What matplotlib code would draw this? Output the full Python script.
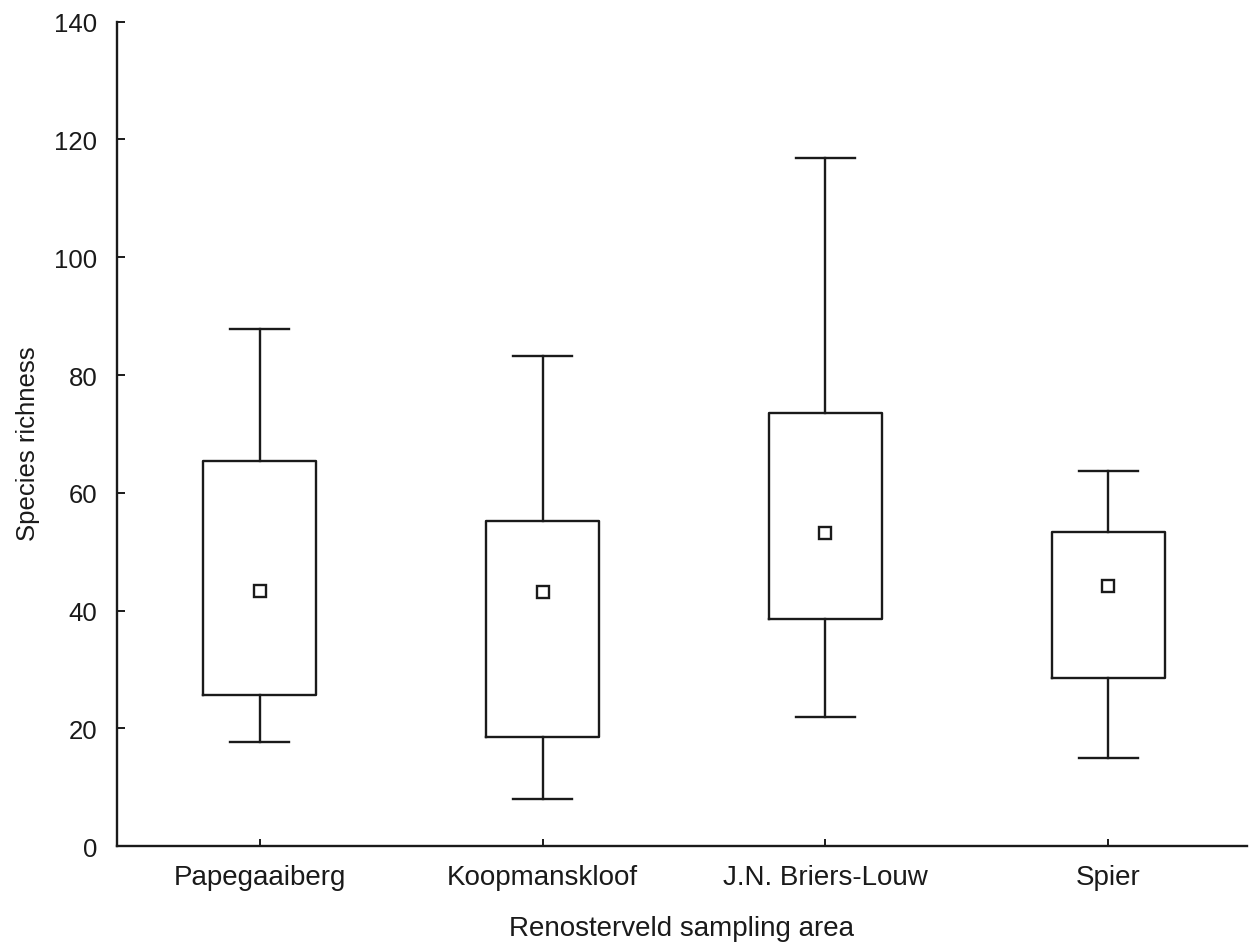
import matplotlib
matplotlib.use("Agg")
import matplotlib.pyplot as plt

plt.rcParams["font.family"] = ["Liberation Sans", "DejaVu Sans"]

# Values
areas = ["Papegaaiberg", "Koopmanskloof", "J.N. Briers-Louw", "Spier"]
centre = [43.4, 43.1, 53.2, 44.2]
box_low = [25.7, 18.6, 38.6, 28.6]
box_high = [65.4, 55.3, 73.5, 53.3]
whisker_low = [17.7, 8.0, 22.0, 15.0]
whisker_high = [87.8, 83.2, 116.9, 63.8]

stats = []
for name, c, lo, hi, wlo, whi in zip(areas, centre, box_low, box_high,
                                     whisker_low, whisker_high):
    stats.append({"label": name, "med": c, "mean": c, "q1": lo, "q3": hi,
                  "whislo": wlo, "whishi": whi, "fliers": []})

fig = plt.figure(figsize=(12.5, 9.45), dpi=100)
ax = fig.add_axes([0.0934, 0.1034, 0.9042, 0.8726])

line = dict(color="#1a1a1a", linewidth=1.7)
ax.bxp(stats, positions=range(len(areas)), widths=0.40,
       showmeans=True, showfliers=False,
       boxprops=line, whiskerprops=line, capprops=line,
       medianprops=dict(linewidth=0),
       meanprops=dict(marker="s", markersize=8.5, markerfacecolor="white",
                      markeredgecolor="#1a1a1a", markeredgewidth=1.7),
       capwidths=0.206)

ax.set_xlim(-0.505, 3.49)
ax.set_ylim(0, 140)
ax.set_yticks(range(0, 141, 20))
ax.set_xticks(range(len(areas)))
ax.set_xticklabels(areas)

for s in ["top", "right"]:
    ax.spines[s].set_visible(False)
for s in ["left", "bottom"]:
    ax.spines[s].set_linewidth(1.7)
    ax.spines[s].set_color("#1a1a1a")

ax.tick_params(axis="y", direction="in", length=6, width=1.4,
               labelsize=18.5, pad=14, colors="#1a1a1a")
ax.tick_params(axis="x", direction="in", length=5, width=1.4,
               labelsize=20, pad=13, colors="#1a1a1a")

ax.set_xlabel("Renosterveld sampling area", fontsize=20, labelpad=18,
              color="#1a1a1a")
ax.set_ylabel("Species richness", fontsize=18.5, color="#1a1a1a")
ax.yaxis.set_label_coords(-0.068, 0.49)

plt.savefig("out.png", dpi=100)
plt.close()
